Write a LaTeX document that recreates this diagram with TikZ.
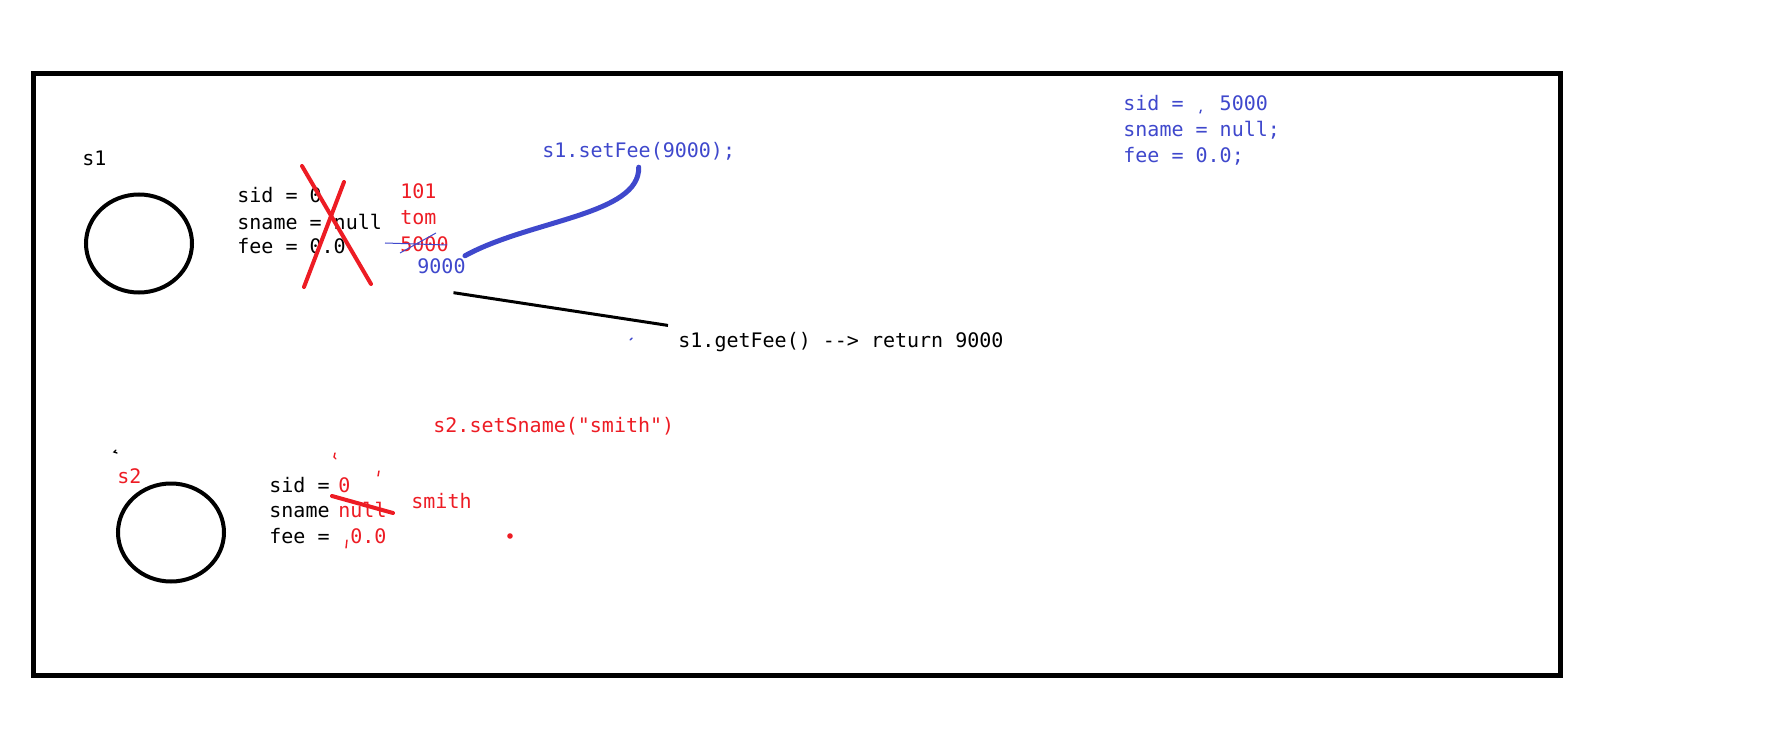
\documentclass[tikz,border=0pt]{standalone}
\usepackage{fontspec}
\setmonofont{DejaVu Sans Mono}
\usepackage{xcolor}
\usepackage{tikz}
\usetikzlibrary{shapes.geometric}
\definecolor{paintred}{RGB}{237,28,36}
\definecolor{paintblue}{RGB}{63,72,204}
\tikzset{
  code/.style={font=\ttfamily\fontsize{10}{13}\selectfont, inner sep=0pt, anchor=base west},
  redcode/.style={code, text=paintred},
  bluecode/.style={code, text=paintblue},
  objcircle/.style={ellipse, draw, line width=2pt, minimum width=53pt, minimum height=49pt, inner sep=0pt},
  crossout/.style={draw=paintred, line width=2pt, line cap=round},
  penstroke/.style={draw=paintblue, line width=2.5pt, line cap=round},
  thinstroke/.style={draw=paintblue, line width=0.5pt},
  pointer/.style={draw=black, line width=1.5pt},
  speck/.style={line width=0.7pt, line cap=round},
}

\begin{document}
\begin{tikzpicture}[x=0.5pt, y=-0.5pt]
  \useasboundingbox (0,0) rectangle (1771,743);

  %% ---- FRAME ----
  \draw[line width=2.5pt] (33.5,73.5) rectangle (1560.5,675.5);

  %% ---- OBJECT s1 ----
  \node[code] (s1lbl) at (82,166) {s1};
  \node[objcircle] (s1obj) at (139,243.5) {};
  \node[code] (s1sid) at (237,203) {sid = 0};
  \node[code] (s1sname) at (237,229) {sname = null};
  \node[code] (s1fee) at (237,254) {fee = 0.0};

  \draw[crossout] (302,166) -- (371,284);
  \draw[crossout] (344,182) -- (304,287);

  \node[redcode] (sid101) at (400,199) {101};
  \node[redcode] (snametom) at (400,225) {tom};
  \node[redcode] (fee5000) at (400,251) {5000};
  \draw[thinstroke] (385,243) -- (447,245);
  \draw[thinstroke] (400,253) -- (436,233);
  \node[bluecode] (fee9000) at (417,273) {9000};

  %% ---- CALLS ON s1 ----
  \node[bluecode] (setfee) at (542,158) {s1.setFee(9000);};
  \node[code] (getfee) at (678,347) {s1.getFee() {-}{-}> return 9000};

  \draw[penstroke] ([shift={(-1,-2)}]fee9000.north east)
    .. controls (530,220) and (640,215) .. ([yshift=-3pt]setfee.south);
  \draw[pointer] ([shift={(12,19)}]fee9000.south) -- ([shift={(-10,-6)}]getfee.north west);

  %% ---- DEFAULTS (top right) ----
  \node[bluecode] (dsid) at (1123,111) {sid =~~~5000};
  \node[bluecode] (dsname) at (1123,137) {sname = null;};
  \node[bluecode] (dfee) at (1123,163) {fee = 0.0;};

  %% ---- OBJECT s2 ----
  \node[redcode] (setsname) at (433,432) {s2.setSname("smith")};
  \node[redcode] (s2lbl) at (117,483) {s2};
  \node[objcircle] (s2obj) at (171,532.5) {};
  \node[code] (s2sid) at (269,492) {sid =};
  \node[code] (s2sname) at (269,517) {sname};
  \node[code] (s2fee) at (269,543) {fee =};
  \node[redcode] (sid0) at (338,492) {0};
  \node[redcode] (snamenull) at (338,517) {null};
  \node[redcode] (fee00) at (350,543) {0.0};
  \node[redcode] (snamesmith) at (411,508) {smith};
  \draw[crossout] (332,496) -- (393,513);

  %% ---- stray pen marks ----
  \draw[speck, paintred] (335,453) -- (334,457) -- (336,459);
  \draw[speck, paintred] (379,471) -- (378,476);
  \draw[speck, paintred] (347,540) -- (346,548);
  \fill[paintred] (510,536) circle (1.4pt);
  \draw[speck] (116,450) -- (114,452) -- (117,453);
  \draw[speck, paintblue] (1201,110) -- (1200,113);
  \draw[speck, paintblue] (632,338) -- (630,340);

\end{tikzpicture}
\end{document}
